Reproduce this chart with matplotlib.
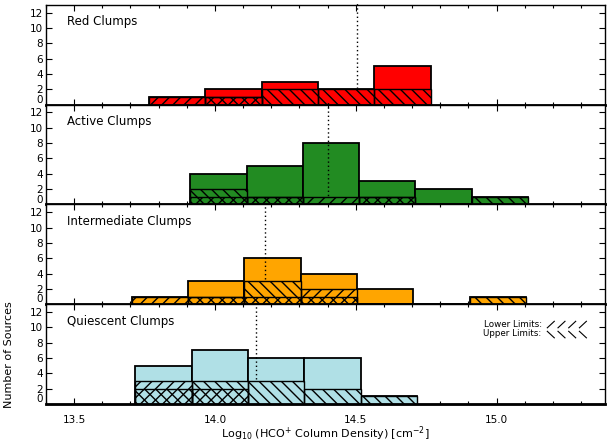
import numpy as np
import matplotlib
matplotlib.use('Agg')
import matplotlib.pyplot as plt

plt.rcParams['font.family'] = ['DejaVu Sans']
plt.rcParams['hatch.linewidth'] = 1.0
plt.rcParams['hatch.color'] = 'black'

# panel names and fill colours
names = ['Red Clumps', 'Active Clumps', 'Intermediate Clumps', 'Quiescent Clumps']
colors = ['#ff0000', '#228b22', '#ffa500', '#b0e0e6']

# bin edges (log10 HCO+ column density)
red_edges = [13.766, 13.966, 14.166, 14.366, 14.566, 14.766]
act_edges = [13.912, 14.112, 14.312, 14.512, 14.712, 14.912, 15.112]
int_edges = [13.704, 13.904, 14.104, 14.304, 14.504, 14.704, 14.904, 15.104]
qui_edges = [13.717, 13.917, 14.117, 14.317, 14.517, 14.717]

# counts: all sources, lower limits, upper limits
red_all = [1, 2, 3, 2, 5]
red_low = [1, 1, 0, 0, 0]
red_up = [0, 1, 2, 2, 2]

act_all = [4, 5, 8, 3, 2, 1]
act_low = [1, 1, 1, 1, 0, 0]
act_up = [2, 1, 0, 1, 0, 1]

int_all = [1, 3, 6, 4, 2, 0, 1]
int_low = [1, 1, 1, 2, 0, 0, 0]
int_up = [0, 1, 3, 1, 0, 0, 1]

qui_all = [5, 7, 6, 6, 1]
qui_low = [3, 2, 0, 0, 0]
qui_up = [2, 3, 3, 2, 1]

# medians (dotted lines)
medians = [14.504, 14.402, 14.178, 14.144]

edges = [red_edges, act_edges, int_edges, qui_edges]
alls = [red_all, act_all, int_all, qui_all]
lows = [red_low, act_low, int_low, qui_low]
ups = [red_up, act_up, int_up, qui_up]

fig, axes = plt.subplots(4, 1, figsize=(6.07, 4.44), dpi=100, sharex=True)
fig.subplots_adjust(left=46/607, right=605/607, top=1-5/444, bottom=1-404/444, hspace=0)

for i, ax in enumerate(axes):
    e = np.array(edges[i])
    left = e[:-1]
    w = np.diff(e)
    c = colors[i]
    tot = np.array(alls[i])
    lo = np.array(lows[i])
    up = np.array(ups[i])

    ax.bar(left, tot, width=w, align='edge', color=c, edgecolor='black', linewidth=1.3, zorder=2)
    ax.axvline(medians[i], ymin=0, ymax=1.04, color='black', lw=1.0,
               linestyle=(0, (1, 2)), zorder=3, clip_on=False)
    # cover the dotted line where the limits are hatched
    ax.bar(left, np.maximum(lo, up), width=w, align='edge', color=c, linewidth=0, zorder=4)
    m = lo > 0
    ax.bar(left[m], lo[m], width=w[m], align='edge', facecolor='none', edgecolor='black',
           hatch='///', linewidth=1.0, zorder=5)
    m = up > 0
    ax.bar(left[m], up[m], width=w[m], align='edge', facecolor='none', edgecolor='black',
           hatch='\\\\\\', linewidth=1.0, zorder=5)
    ax.axhline(0, color='black', lw=2, zorder=6, clip_on=False)

    ax.set_xlim(13.4, 15.385)
    ax.set_ylim(0, 13)
    ax.set_yticks(np.arange(0, 13, 2))
    ax.set_xticks([13.5, 14.0, 14.5, 15.0])
    ax.set_xticks(np.arange(13.4, 15.39, 0.1), minor=True)
    ax.tick_params(axis='both', which='both', direction='in', top=True, right=True,
                   labelsize=7.5, pad=2)
    ax.tick_params(axis='both', which='major', length=4, width=0.8)
    ax.tick_params(axis='x', which='minor', length=2, width=0.8)
    ax.tick_params(axis='y', which='minor', left=False, right=False)
    for s in ax.spines.values():
        s.set_linewidth(1.0)
    ax.text(0.037, 0.83, names[i], transform=ax.transAxes, fontsize=8.5,
            ha='left', va='center')
    # lift the "0" label a little, as in the original
    ax.get_yticklabels()[0].set_va('bottom')

axes[-1].tick_params(axis='x', which='major', pad=8)
fig.text((46 + 605) / 2 / 607, 1 - 434 / 444,
         r'Log$_{10}$ (HCO$^{+}$ Column Density) [cm$^{-2}$]',
         fontsize=8, ha='center', va='center')
axes[-1].set_ylabel('Number of Sources', fontsize=8)
axes[-1].yaxis.set_label_coords(-0.057, 0.5)

# hatch key in the bottom panel
axq = axes[-1]
x0 = (541.7 - 46) / 559
axq.text(x0, 1 - (325 - 304.5) / 99.5, 'Lower Limits:', transform=axq.transAxes,
         fontsize=6.3, ha='right', va='center')
axq.text(x0, 1 - (334 - 304.5) / 99.5, 'Upper Limits:', transform=axq.transAxes,
         fontsize=6.3, ha='right', va='center')
for k in range(4):
    xa = (547.3 + 10.7 * k - 46) / 559
    xb = (554.3 + 10.7 * k - 46) / 559
    y1 = 1 - (321.5 - 304.5) / 99.5
    y2 = 1 - (328 - 304.5) / 99.5
    y3 = 1 - (331.5 - 304.5) / 99.5
    y4 = 1 - (338 - 304.5) / 99.5
    axq.plot([xa, xb], [y2, y1], color='black', lw=0.8, transform=axq.transAxes)
    axq.plot([xa, xb], [y3, y4], color='black', lw=0.8, transform=axq.transAxes)

fig.savefig('out.png', dpi=100)
